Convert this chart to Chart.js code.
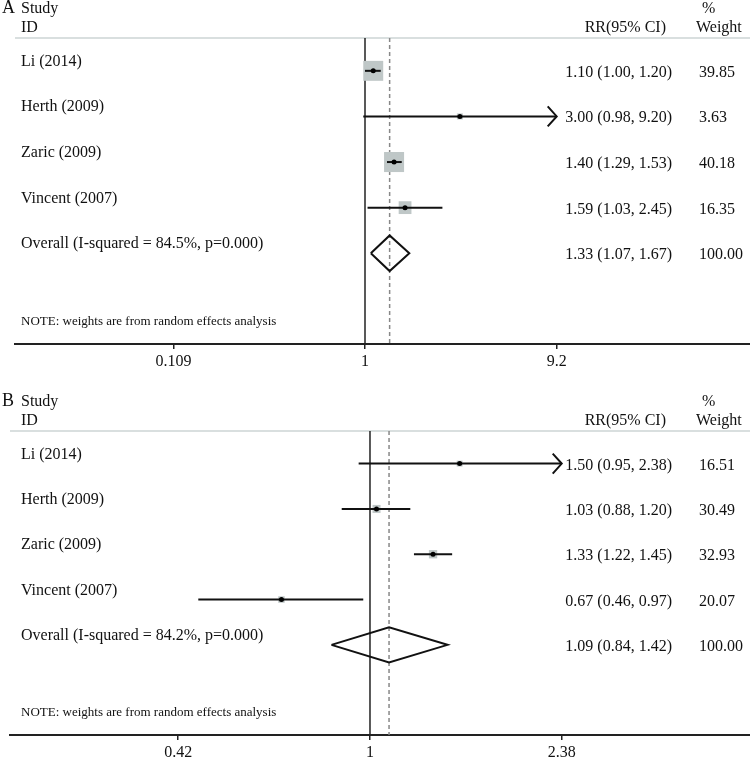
<!DOCTYPE html>
<html>
<head>
<meta charset="utf-8">
<script src="https://cdn.jsdelivr.net/npm/chart.js@4.4.1/dist/chart.umd.min.js"></script>
<style>
  html, body { margin: 0; padding: 0; background: #fff; overflow: hidden; }
  #wrap { position: relative; width: 750px; height: 759px; overflow: hidden; }
  canvas { position: absolute; left: 0; }
</style>
</head>
<body>
<div id="wrap">
  <canvas id="plotA" width="750" height="390" style="top:0"></canvas>
  <canvas id="plotB" width="750" height="377" style="top:390px"></canvas>
</div>
<script>
// data
const studies = ['Li (2014)', 'Herth (2009)', 'Zaric (2009)', 'Vincent (2007)'];

const rrA = [1.10, 3.00, 1.40, 1.59];
const lowA = [1.00, 0.98, 1.29, 1.03];
const highA = [1.20, 9.20, 1.53, 2.45];
const weightA = [39.85, 3.63, 40.18, 16.35];
const overallA = [1.33, 1.07, 1.67];
const overallLabelA = 'Overall (I-squared = 84.5%, p=0.000)';
const ticksA = [0.109, 1, 9.2];

const rrB = [1.50, 1.03, 1.33, 0.67];
const lowB = [0.95, 0.88, 1.22, 0.46];
const highB = [2.38, 1.20, 1.45, 0.97];
const weightB = [16.51, 30.49, 32.93, 20.07];
const overallB = [1.09, 0.84, 1.42];
const overallLabelB = 'Overall (I-squared = 84.2%, p=0.000)';
const ticksB = [0.42, 1, 2.38];

const serif = '"Liberation Serif", "Times New Roman", serif';

function line(ctx, x1, y1, x2, y2) {
  ctx.beginPath();
  ctx.moveTo(x1, y1);
  ctx.lineTo(x2, y2);
  ctx.stroke();
}

// reference lines, table text, arrows
const forestText = {
  id: 'forestText',
  beforeDatasetsDraw(chart, args, o) {
    const ctx = chart.ctx, a = chart.chartArea, x = chart.scales.x;
    ctx.save();
    ctx.strokeStyle = '#cdd4d4';
    ctx.lineWidth = 1.5;
    line(ctx, a.left, a.top, a.right, a.top);
    ctx.strokeStyle = '#222';
    const x1 = x.getPixelForValue(1);
    line(ctx, x1, a.top, x1, a.bottom);
    ctx.strokeStyle = '#888';
    ctx.setLineDash([4, 3]);
    const xo = x.getPixelForValue(o.overall[0]);
    line(ctx, xo, a.top, xo, a.bottom);
    ctx.restore();
  },
  afterDatasetsDraw(chart, args, o) {
    const ctx = chart.ctx, a = chart.chartArea, x = chart.scales.x, y = chart.scales.y;
    const lastTick = o.ticks[o.ticks.length - 1];
    ctx.save();
    ctx.fillStyle = '#111';
    ctx.textBaseline = 'alphabetic';
    ctx.font = '18px ' + serif;
    ctx.textAlign = 'left';
    ctx.fillText(o.panel, 2, a.top - 25);
    ctx.font = '16px ' + serif;
    ctx.fillText('Study', 21, a.top - 25);
    ctx.fillText('ID', 21, a.top - 6);
    ctx.fillText('%', 702, a.top - 25);
    ctx.fillText('Weight', 696, a.top - 6);
    ctx.textAlign = 'right';
    ctx.fillText('RR(95% CI)', 666, a.top - 6);

    const f = v => v.toFixed(2);
    const rows = o.rr.map((v, i) => ({
      label: studies[i], rr: v, lo: o.low[i], hi: o.high[i], w: o.weight[i]
    }));
    rows.push({ label: o.overallLabel, rr: o.overall[0], lo: o.overall[1], hi: o.overall[2], w: 100 });
    rows.forEach((r, i) => {
      const yp = y.getPixelForValue(i);
      ctx.textAlign = 'left';
      ctx.fillText(r.label, 21, yp - 5);
      ctx.fillText(f(r.w), 699, yp + 6);
      ctx.textAlign = 'right';
      ctx.fillText(f(r.rr) + ' (' + f(r.lo) + ', ' + f(r.hi) + ')', 672, yp + 6);
    });

    ctx.font = '13px ' + serif;
    ctx.textAlign = 'left';
    ctx.fillText('NOTE: weights are from random effects analysis', 21, a.bottom - 19);

    // arrow where the interval runs to the edge of the range
    ctx.strokeStyle = '#111';
    ctx.lineWidth = 2;
    o.high.forEach((h, i) => {
      if (h < lastTick) return;
      const tip = x.getPixelForValue(lastTick), yp = y.getPixelForValue(i);
      ctx.beginPath();
      ctx.moveTo(tip - 9, yp - 10);
      ctx.lineTo(tip, yp);
      ctx.lineTo(tip - 9, yp + 10);
      ctx.stroke();
    });
    ctx.restore();
  }
};

function forest(id, d) {
  const est = d.rr.map((v, i) => ({ x: v, y: i }));
  const ci = d.low.map((lo, i) => ({
    data: [{ x: lo, y: i }, { x: d.high[i], y: i }],
    showLine: true, borderColor: '#111', borderWidth: 2, pointRadius: 0, order: 1
  }));
  const oy = d.rr.length;
  const dia = [
    { x: d.overall[1], y: oy }, { x: d.overall[0], y: oy - d.diaHalf },
    { x: d.overall[2], y: oy }, { x: d.overall[0], y: oy + d.diaHalf },
    { x: d.overall[1], y: oy }
  ];
  return new Chart(document.getElementById(id), {
    type: 'scatter',
    data: {
      datasets: [
        { data: est, pointStyle: 'circle', pointRadius: 2.5, backgroundColor: '#000', borderWidth: 0, order: 0 },
        ...ci,
        { data: dia, showLine: true, borderColor: '#111', borderWidth: 2, pointRadius: 0, borderJoinStyle: 'miter', order: 1 },
        { data: est, pointStyle: 'rect', backgroundColor: '#bfc7c7', borderWidth: 0, order: 2,
          pointRadius: d.weight.map(w => Math.sqrt(w) * d.boxScale / Math.SQRT2) }
      ]
    },
    options: {
      responsive: false,
      animation: false,
      events: [],
      layout: { autoPadding: false, padding: { top: d.top, left: d.left, right: 0, bottom: d.bottom } },
      plugins: {
        legend: { display: false },
        tooltip: { enabled: false },
        forestText: d
      },
      scales: {
        x: {
          type: 'logarithmic',
          min: d.min,
          max: d.max,
          afterBuildTicks: s => { s.ticks = d.ticks.map(v => ({ value: v })); },
          ticks: {
            callback: v => String(v),
            color: '#111',
            padding: 5,
            maxRotation: 0,
            autoSkip: false,
            font: { family: serif, size: 16, lineHeight: 1 }
          },
          grid: { drawOnChartArea: false, drawTicks: true, tickLength: 5, color: '#222', lineWidth: 1.5 },
          border: { display: true, color: '#222', width: 2 }
        },
        y: {
          type: 'linear',
          display: false,
          reverse: true,
          min: -0.72,
          max: 5.99
        }
      }
    },
    plugins: [forestText]
  });
}

forest('plotA', {
  panel: 'A', rr: rrA, low: lowA, high: highA, weight: weightA,
  overall: overallA, overallLabel: overallLabelA, ticks: ticksA,
  min: 0.01739, max: 86.23, boxScale: 3.16, diaHalf: 0.39,
  top: 38, left: 15, bottom: 15
});
forest('plotB', {
  panel: 'B', rr: rrB, low: lowB, high: highB, weight: weightB,
  overall: overallB, overallLabel: overallLabelB, ticks: ticksB,
  min: 0.1963, max: 5.577, boxScale: 1.45, diaHalf: 0.39,
  top: 41, left: 10, bottom: 1
});
</script>
</body>
</html>
